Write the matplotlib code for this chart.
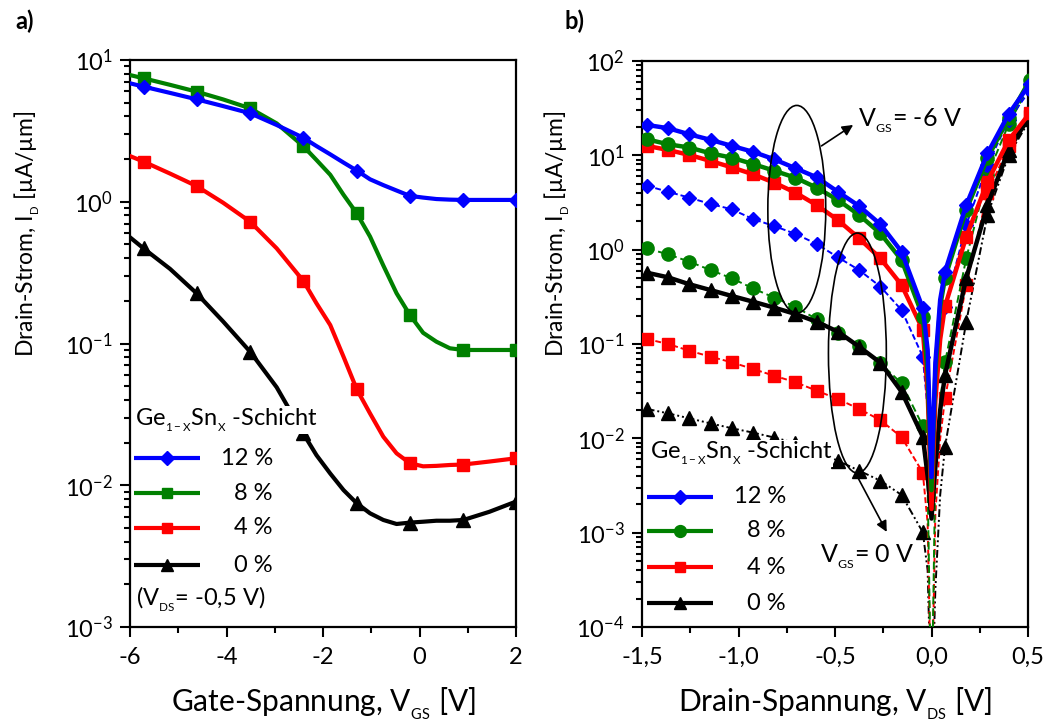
import math
import matplotlib
matplotlib.use("Agg")
import matplotlib.pyplot as plt
from matplotlib.patches import Ellipse
from matplotlib.ticker import MultipleLocator, FuncFormatter, LogLocator, NullFormatter

plt.rcParams.update({
    'font.family': ['Lato', 'DejaVu Sans'],
    'mathtext.fontset': 'custom',
    'mathtext.rm': 'Lato',
    'mathtext.it': 'Lato:italic',
    'mathtext.bf': 'Lato:bold',
    'mathtext.default': 'regular',
    'axes.unicode_minus': False,
})

# ---------------- panel a): transfer curves at V_DS = -0.5 V ----------------
vgs = [-6.0, -5.72, -5.17, -4.62, -4.07, -3.51, -2.96, -2.41, -2.135, -1.85, -1.575,
       -1.30, -1.025, -0.75, -0.475, -0.20, 0.075, 0.35, 0.63, 0.91, 1.45, 2.0]
vgs_marks = [1, 3, 5, 7, 11, 15, 19, 21]
ia_12 = [6.85, 6.49, 5.86, 5.28, 4.73, 4.21, 3.48, 2.83, 2.47, 2.16, 1.89,
         1.66, 1.44, 1.31, 1.20, 1.10, 1.07, 1.045, 1.035, 1.03, 1.03, 1.03]
ia_8 = [7.83, 7.43, 6.68, 5.98, 5.27, 4.56, 3.57, 2.47, 1.97, 1.55, 1.12,
        0.828, 0.568, 0.355, 0.226, 0.159, 0.119, 0.103, 0.0925, 0.090, 0.090, 0.090]
ia_4 = [2.10, 1.92, 1.58, 1.29, 0.984, 0.723, 0.469, 0.277, 0.192, 0.135, 0.0807,
        0.0475, 0.0321, 0.0220, 0.0168, 0.0143, 0.0136, 0.0137, 0.0139, 0.0140, 0.0147,
        0.0155]
ia_0 = [0.561, 0.469, 0.336, 0.226, 0.143, 0.0875, 0.0491, 0.0232, 0.0163, 0.0121,
        0.00925, 0.00746, 0.00634, 0.00569, 0.00533, 0.00545, 0.00553, 0.00562, 0.00562,
        0.00569, 0.00650, 0.00767]

# ---------------- panel b): output curves, V_GS = -6 V (solid) and 0 V (dashed) --
vds = [-1.475, -1.365, -1.255, -1.145, -1.035, -0.925, -0.815, -0.705, -0.595,
       -0.485, -0.375, -0.265, -0.155, -0.045, -0.02, 0.0, 0.02, 0.045,
       0.07, 0.18, 0.29, 0.40, 0.51]
vds_marks = list(range(0, 14)) + list(range(18, 23))

ib_12_m6 = [21.0, 19.4, 16.7, 14.6, 12.6, 10.9, 9.08, 7.29, 5.85, 4.11, 2.90, 1.86,
            0.951, 0.239, 0.0871, 0.00389, 0.0631, 0.295, 0.585, 2.97, 10.5, 27.4, 57.5]
ib_12_0 = [4.76, 4.11, 3.56, 3.05, 2.68, 2.11, 1.78, 1.47, 1.15, 0.830, 0.608, 0.406,
           0.229, 0.0733, 0.0200, 0.00398, 0.0316, 0.112, 0.248, 1.82, 7.89, 23.7, 49.0]
ib_8_m6 = [14.8, 13.1, 12.1, 10.5, 9.44, 8.09, 6.87, 5.79, 4.54, 3.36, 2.33, 1.49,
           0.776, 0.195, 0.0501, 0.00282, 0.0501, 0.251, 0.501, 2.63, 9.33, 25.1, 63.1]
ib_8_0 = [1.03, 0.893, 0.746, 0.608, 0.497, 0.389, 0.310, 0.248, 0.183, 0.132, 0.0959,
          0.0624, 0.0383, 0.0135, 0.00316, 1e-5, 0.00501, 0.0251, 0.0640, 0.809, 6.18,
          21.4, 56.2]
ib_4_m6 = [12.6, 11.4, 10.1, 8.71, 7.46, 6.30, 5.13, 4.02, 2.97, 2.06, 1.32, 0.809,
           0.422, 0.141, 0.0316, 0.00178, 0.0251, 0.112, 0.251, 1.37, 5.25, 14.5, 28.2]
ib_4_0 = [0.113, 0.100, 0.0849, 0.0733, 0.0640, 0.0543, 0.0461, 0.0393, 0.0320, 0.0261,
          0.0205, 0.0156, 0.0103, 0.00433, 0.00126, 1e-5, 0.00158, 0.0100, 0.0265, 0.422,
          3.96, 12.6, 26.3]
ib_0_m6 = [0.570, 0.509, 0.430, 0.373, 0.323, 0.281, 0.243, 0.208, 0.172, 0.135, 0.0935,
           0.0634, 0.0312, 0.0104, 0.00398, 0.00141, 0.00501, 0.0200, 0.0468, 0.501,
           2.95, 11.5, 26.3]
ib_0_0 = [0.0205, 0.0184, 0.0163, 0.0144, 0.0128, 0.0115, 0.0102, 0.00891, 0.00724,
          0.00579, 0.00454, 0.00356, 0.00251, 0.00101, 0.000398, 1e-5, 0.000251, 0.00251,
          0.00813, 0.172, 2.33, 10.0, 24.0]

sn_labels = ['12 %', '8 %', '4 %', '0 %']
colors = ['#0000ff', '#008000', '#ff0000', '#000000']
marks_a = ['D', 's', 's', '^']
marks_b = ['D', 'o', 's', '^']
msize = {'D': 7.6, 's': 8.5, 'o': 9.5, '^': 10}

fig = plt.figure(figsize=(10.51, 7.2), dpi=100)
W, H = 1051, 720
axA = fig.add_axes([130 / W, 1 - 627 / H, 386 / W, 567 / H])
axB = fig.add_axes([642 / W, 1 - 627 / H, 386 / W, 566 / H])

TICK_FS = 17
TEXT_FS = 17
XLABEL_FS = 21.5
YLABEL_FS = 16.5

TITLE = r'Ge$_{_{1-X}}$Sn$_{_{X}}$ -Schicht'


def style_axes(ax):
    ax.set_yscale('log')
    for s in ax.spines.values():
        s.set_linewidth(1.6)
    ax.tick_params(axis='both', which='both', direction='out', top=False, right=False,
                   width=1.5, labelsize=TICK_FS)
    ax.tick_params(axis='both', which='major', length=7.5)
    ax.tick_params(axis='both', which='minor', length=4)
    ax.tick_params(axis='x', which='major', pad=7)
    ax.tick_params(axis='y', which='major', pad=5)
    ax.yaxis.set_major_locator(LogLocator(base=10, numticks=20))
    ax.yaxis.set_minor_locator(LogLocator(base=10, subs=range(2, 10), numticks=20))
    ax.yaxis.set_minor_formatter(NullFormatter())
    ax.yaxis.set_major_formatter(
        FuncFormatter(lambda v, p: r'$10^{%d}$' % round(math.log10(v))))


def legend_block(ax, title, title_xy, rows_y, x0, x1, text_x, markers):
    t = ax.text(title_xy[0], title_xy[1], title, transform=ax.transAxes,
                fontsize=17, ha='left', va='center', zorder=6)
    t.set_bbox(dict(facecolor='white', edgecolor='none', pad=0))
    for lab, c, m, y in zip(sn_labels, colors, markers, rows_y):
        ax.plot([x0, x1], [y, y], transform=ax.transAxes, color=c, lw=3.0,
                solid_capstyle='butt', zorder=7, clip_on=False)
        ax.plot([(x0 + x1) / 2], [y], transform=ax.transAxes, color=c, marker=m,
                ms=msize[m] * 0.9, zorder=7, clip_on=False)
        ax.text(text_x, y, lab, transform=ax.transAxes, fontsize=TEXT_FS,
                ha='right', va='center', zorder=7)


# ---- panel a) ----
style_axes(axA)
series_a = [ia_12, ia_8, ia_4, ia_0]
for ys, c, m in list(zip(series_a, colors, marks_a))[::-1]:
    axA.plot(vgs, ys, color=c, lw=3.0, marker=m, ms=msize[m], markevery=vgs_marks,
             zorder=3)
axA.set_xlim(-6, 2)
axA.set_ylim(1e-3, 1e1)
axA.xaxis.set_major_locator(MultipleLocator(2))
axA.xaxis.set_minor_locator(MultipleLocator(1))
axA.xaxis.set_major_formatter(FuncFormatter(lambda v, p: '%d' % round(v)))
axA.set_xlabel(r'Gate-Spannung, V$_{_{GS}}$ [V]', fontsize=XLABEL_FS)
axA.set_ylabel(r'Drain-Strom, I$_{_{D}}$ [µA/µm]', fontsize=YLABEL_FS)
axA.xaxis.set_label_coords(0.5, -0.104)
axA.yaxis.set_label_coords(-0.228, 0.693)

legend_block(axA, TITLE, (0.013, 0.365),
             [0.298, 0.236, 0.175, 0.109], 0.010, 0.181, 0.370, marks_a)
axA.text(0.016, 0.048, r'(V$_{_{DS}}$= -0,5 V)', transform=axA.transAxes,
         fontsize=TEXT_FS, ha='left', va='center')
fig.text(15 / W, 1 - 21 / H, 'a)', fontsize=17, fontweight='bold', ha='left', va='center')

# ---- panel b) ----
style_axes(axB)
solid_b = [ib_12_m6, ib_8_m6, ib_4_m6, ib_0_m6]
dash_b = [ib_12_0, ib_8_0, ib_4_0, ib_0_0]
dash_styles = [(0, (3, 1.5)), (0, (4, 2)), (0, (3, 1.5)), (0, (4, 1.5, 1, 1.5, 1, 1.5))]
for ys, c, m, ls in list(zip(dash_b, colors, marks_b, dash_styles))[::-1]:
    axB.plot(vds, ys, color=c, lw=1.4, ls=ls, marker=m, ms=msize[m],
             markevery=vds_marks, zorder=3)
for ys, c, m in list(zip(solid_b, colors, marks_b))[::-1]:
    axB.plot(vds, ys, color=c, lw=3.2, marker=m, ms=msize[m],
             markevery=vds_marks, zorder=4)
axB.set_xlim(-1.5, 0.5)
axB.set_ylim(1e-4, 1e2)
axB.xaxis.set_major_locator(MultipleLocator(0.5))
axB.xaxis.set_minor_locator(MultipleLocator(0.25))
axB.xaxis.set_major_formatter(FuncFormatter(lambda v, p: ('%.1f' % v).replace('.', ',')
                                            .replace('-0,0', '0,0')))
axB.set_xlabel(r'Drain-Spannung, V$_{_{DS}}$ [V]', fontsize=XLABEL_FS)
axB.set_ylabel(r'Drain-Strom, I$_{_{D}}$ [µA/µm]', fontsize=YLABEL_FS)
axB.xaxis.set_label_coords(0.5, -0.104)
axB.yaxis.set_label_coords(-0.181, 0.694)

legend_block(axB, TITLE, (0.021, 0.307),
             [0.230, 0.170, 0.106, 0.042], 0.013, 0.184, 0.373, marks_b)

# groups of curves for the two gate voltages
axB.add_patch(Ellipse((0.401, 0.738), 0.150, 0.367, transform=axB.transAxes,
                      fill=False, ec='black', lw=1.2, zorder=5))
axB.add_patch(Ellipse((0.558, 0.484), 0.150, 0.424, transform=axB.transAxes,
                      fill=False, ec='black', lw=1.2, zorder=5))
axB.annotate('', xy=(0.547, 0.887), xytext=(0.465, 0.850), xycoords='axes fraction',
             arrowprops=dict(arrowstyle='-|>', color='black', lw=1.2,
                             mutation_scale=16, shrinkA=0, shrinkB=0), zorder=5)
axB.annotate('', xy=(0.634, 0.168), xytext=(0.560, 0.263), xycoords='axes fraction',
             arrowprops=dict(arrowstyle='-|>', color='black', lw=1.2,
                             mutation_scale=16, shrinkA=0, shrinkB=0), zorder=5)
axB.text(0.560, 0.894, r'V$_{_{GS}}$= -6 V', transform=axB.transAxes, fontsize=18,
         ha='left', va='center', zorder=6)
axB.text(0.461, 0.124, r'V$_{_{GS}}$= 0 V', transform=axB.transAxes, fontsize=18,
         ha='left', va='center', zorder=6)
fig.text(565 / W, 1 - 21 / H, 'b)', fontsize=17, fontweight='bold', ha='left', va='center')

fig.savefig('out.png', dpi=100)
